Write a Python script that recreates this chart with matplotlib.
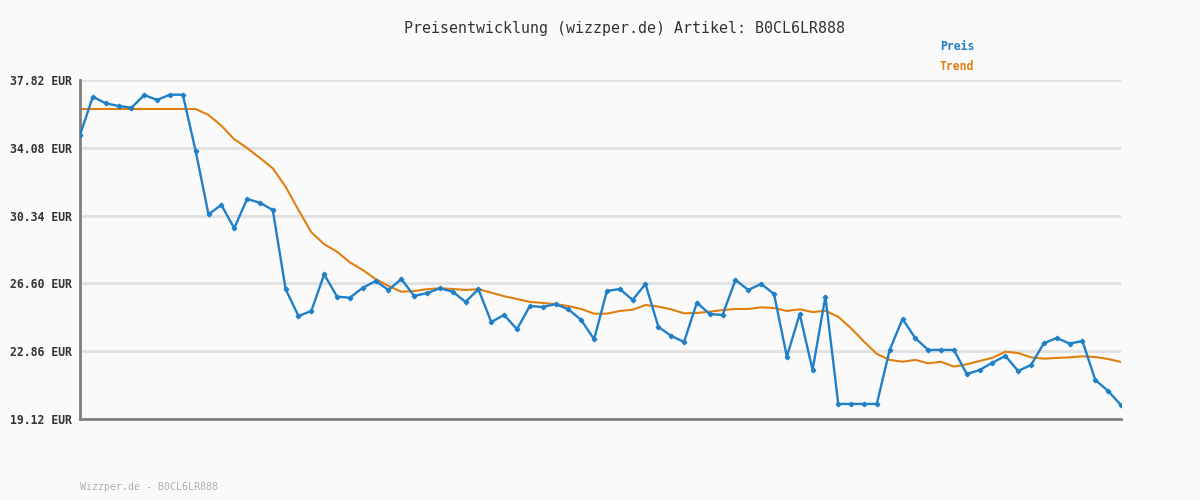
import matplotlib
matplotlib.use("Agg")
import matplotlib.pyplot as plt

# price data
preis = [34.79, 36.90, 36.53, 36.39, 36.29, 36.99, 36.72, 37.01, 37.01, 33.90,
         30.41, 30.93, 29.64, 31.26, 31.05, 30.65, 26.28, 24.80, 25.08, 27.10,
         25.87, 25.81, 26.36, 26.73, 26.24, 26.84, 25.91, 26.06, 26.33, 26.14,
         25.58, 26.28, 24.47, 24.86, 24.07, 25.35, 25.30, 25.46, 25.17, 24.58,
         23.52, 26.18, 26.29, 25.69, 26.57, 24.21, 23.70, 23.37, 25.54, 24.91,
         24.86, 26.79, 26.24, 26.57, 26.02, 22.56, 24.91, 21.82, 25.87, 19.95,
         19.95, 19.95, 19.95, 22.93, 24.64, 23.57, 22.93, 22.93, 22.93, 21.60,
         21.82, 22.23, 22.60, 21.77, 22.10, 23.30, 23.59, 23.28, 23.42, 21.27,
         20.67, 19.88]

trend = [36.22, 36.22, 36.22, 36.22, 36.22, 36.22, 36.22, 36.22, 36.22, 36.22,
         35.89, 35.30, 34.55, 34.07, 33.52, 32.95, 31.93, 30.65, 29.42, 28.76,
         28.35, 27.76, 27.34, 26.84, 26.46, 26.14, 26.18, 26.28, 26.33, 26.29,
         26.24, 26.28, 26.09, 25.89, 25.74, 25.58, 25.52, 25.46, 25.35, 25.19,
         24.93, 24.93, 25.08, 25.15, 25.41, 25.32, 25.17, 24.95, 24.97, 25.04,
         25.13, 25.19, 25.19, 25.28, 25.24, 25.08, 25.17, 25.02, 25.09, 24.76,
         24.12, 23.39, 22.71, 22.38, 22.28, 22.38, 22.19, 22.28, 22.01, 22.14,
         22.32, 22.50, 22.83, 22.76, 22.52, 22.45, 22.49, 22.52, 22.58, 22.54,
         22.43, 22.27]

yticks = [19.12, 22.86, 26.60, 30.34, 34.08, 37.82]
ylabels = ["19.12 EUR", "22.86 EUR", "26.60 EUR", "30.34 EUR", "34.08 EUR", "37.82 EUR"]

blue = "#1f80c8"
orange = "#e07f10"
bg = "#fafafa"
font = ["DejaVu Sans Mono"]

fig = plt.figure(figsize=(12, 5), dpi=100, facecolor=bg)
ax = fig.add_axes([80/1200, 1-419/500, (1121-80)/1200, 339/500], facecolor=bg)

x = list(range(len(preis)))
for t in yticks:
    ax.axhline(t, color="#e2e2e2", lw=2.2, zorder=0)

ax.plot(x, trend, color=orange, lw=1.5, zorder=2)
ax.plot(x, preis, color=blue, lw=1.7, marker="D", markersize=2.3, zorder=3)

ax.set_xlim(0, len(preis)-1)
ax.set_ylim(19.12, 37.82)
ax.set_xticks([])
ax.set_yticks(yticks)
ax.set_yticklabels(ylabels, family=font, fontsize=8.3, fontweight="bold", color="#333333")
ax.tick_params(axis="y", length=0, pad=6)

for s in ["top", "right"]:
    ax.spines[s].set_visible(False)
ax.spines["left"].set_color("#808080")
ax.spines["left"].set_linewidth(2)
ax.spines["bottom"].set_color("#808080")
ax.spines["bottom"].set_linewidth(2)

fig.text(624/1200, 1-28/500, "Preisentwicklung (wizzper.de) Artikel: B0CL6LR888",
         ha="center", va="center", family=font, fontsize=10.8, color="#333333")
fig.text(940/1200, 1-47/500, "Preis", ha="left", va="center", family=font,
         fontsize=8.3, fontweight="bold", color=blue)
fig.text(940/1200, 1-67/500, "Trend", ha="left", va="center", family=font,
         fontsize=8.3, fontweight="bold", color=orange)
fig.text(80/1200, 1-487/500, "Wizzper.de - B0CL6LR888", ha="left", va="center",
         family=font, fontsize=7.1, color="#b0b0b0")

fig.savefig("out.png", dpi=100, facecolor=bg)
